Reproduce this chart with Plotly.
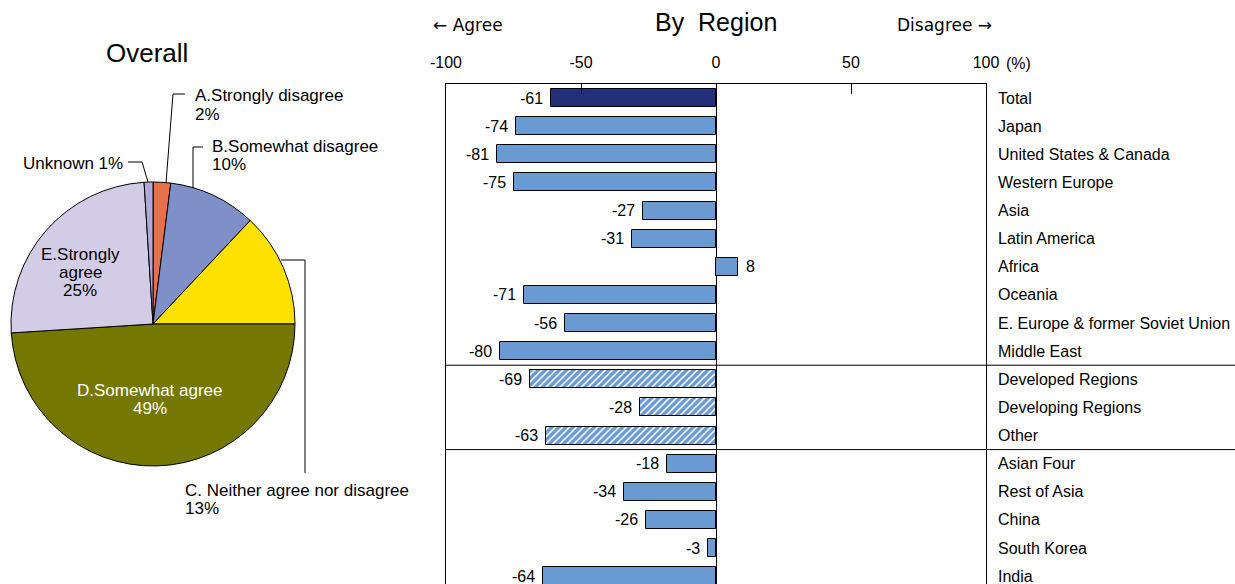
import plotly.graph_objects as go

W, H = 1235, 584

# Overall answers (pie, clockwise from 12 o'clock)
pie_labels = ["A.Strongly disagree", "B.Somewhat disagree", "C. Neither agree nor disagree",
              "D.Somewhat agree", "E.Strongly agree", "Unknown"]
pie_values = [2, 10, 13, 49, 25, 1]
pie_colors = ["#E8704A", "#7F8FC8", "#FFE100", "#747800", "#D2CCE6", "#B0A9DA"]

# Net score by region (negative = agree, positive = disagree)
regions = ["Total", "Japan", "United States & Canada", "Western Europe", "Asia",
           "Latin America", "Africa", "Oceania", "E. Europe & former Soviet Union",
           "Middle East", "Developed Regions", "Developing Regions", "Other",
           "Asian Four", "Rest of Asia", "China", "South Korea", "India"]
scores = [-61, -74, -81, -75, -27, -31, 8, -71, -56, -80, -69, -28, -63,
          -18, -34, -26, -3, -64]
hatched = {"Developed Regions", "Developing Regions", "Other"}

x_ticks = [-100, -50, 0, 50, 100]

FONT = "Liberation Sans, Arial, Helvetica, sans-serif"
BAR = "#6A9AD2"
NAVY = "#22307A"


def P(x, y):
    """pixel position -> paper coordinates"""
    return x / W, 1 - y / H


fig = go.Figure()

fig.add_trace(go.Pie(
    values=pie_values, labels=pie_labels, sort=False, direction="clockwise", rotation=0,
    marker=dict(colors=pie_colors, line=dict(color="black", width=1)),
    textinfo="none", hoverinfo="label+percent", showlegend=False,
    domain=dict(x=[11 / W, 295 / W], y=[1 - 466 / H, 1 - 182 / H]),
))

# solid bars
solid_i = [i for i, r in enumerate(regions) if r not in hatched]
fig.add_trace(go.Bar(
    x=[scores[i] for i in solid_i], y=solid_i, orientation="h", width=0.64,
    marker=dict(color=[NAVY if regions[i] == "Total" else BAR for i in solid_i],
                line=dict(color="black", width=1)),
    showlegend=False, xaxis="x", yaxis="y",
))

# regional aggregates drawn with a white diagonal hatch
hatch_i = [i for i, r in enumerate(regions) if r in hatched]
fig.add_trace(go.Bar(
    x=[scores[i] for i in hatch_i], y=hatch_i, orientation="h", width=0.64,
    marker=dict(color=BAR, line=dict(color="black", width=1),
                pattern=dict(shape="/", fillmode="replace", fgcolor="#FFFFFF",
                             bgcolor=BAR, fgopacity=1, size=5, solidity=0.3)),
    showlegend=False, xaxis="x", yaxis="y",
))

annotations = []
# value labels
for i, v in enumerate(scores):
    annotations.append(dict(
        x=v, y=i, xref="x", yref="y", text=str(v), showarrow=False,
        xanchor="right" if v < 0 else "left", xshift=-6 if v < 0 else 6,
        font=dict(size=16, color="black", family=FONT)))
# region names
for i, r in enumerate(regions):
    annotations.append(dict(
        x=998 / W, y=i, xref="paper", yref="y", text=r, showarrow=False,
        xanchor="left", xshift=-2, font=dict(size=16, color="black", family=FONT)))


def txt(x, y, t, size=17, anchor="left", color="black", family=FONT):
    px_, py_ = P(x, y)
    annotations.append(dict(x=px_, y=py_, xref="paper", yref="paper", text=t,
                            showarrow=False, xanchor=anchor, yanchor="middle",
                            xshift=-2 if anchor == "left" else (2 if anchor == "right" else 0),
                            font=dict(size=size, color=color, family=family)))


ARROWFONT = "DejaVu Sans, " + FONT
txt(147, 53, "Overall", size=26, anchor="center")
txt(716, 22, "By  Region", size=25, anchor="center")
txt(433, 25, "← Agree", size=17, family=ARROWFONT)
txt(897, 25, "Disagree →", size=17, family=ARROWFONT)
txt(1006, 63, "(%)", size=16)

# pie labels
txt(195, 95, "A.Strongly disagree")
txt(195, 114, "2%")
txt(212, 146, "B.Somewhat disagree")
txt(212, 165, "10%")
txt(123, 163, "Unknown 1%", anchor="right")
txt(185, 490, "C. Neither agree nor disagree")
txt(185, 508, "13%")
txt(80, 254, "E.Strongly", anchor="center")
txt(80, 272, "agree", anchor="center")
txt(80, 290, "25%", anchor="center")
txt(150, 390, "D.Somewhat agree", anchor="center", color="white")
txt(150, 408, "49%", anchor="center", color="white")

shapes = []


def seg(pts):
    path = "M " + " L ".join(f"{P(x, y)[0]},{P(x, y)[1]}" for x, y in pts)
    shapes.append(dict(type="path", path=path, xref="paper", yref="paper",
                       line=dict(color="black", width=1)))


seg([(166, 183), (173, 94), (185, 94)])
seg([(193, 188), (193, 147), (203, 147)])
seg([(128, 162), (142, 162), (148, 182)])
seg([(281, 260), (305, 260), (305, 473)])

# group separators across plot and label column
for yv in (9.5, 12.5):
    shapes.append(dict(type="line", xref="paper", yref="y", x0=446 / W, x1=1.0,
                       y0=yv, y1=yv, line=dict(color="black", width=1)))

fig.update_layout(
    template="none",
    width=W, height=H, margin=dict(l=0, r=0, t=0, b=0, pad=0), autosize=False,
    paper_bgcolor="white", plot_bgcolor="white",
    font=dict(family=FONT, size=16, color="black"),
    annotations=annotations, shapes=shapes, bargap=0, barmode="overlay",
    xaxis=dict(domain=[446 / W, 986 / W], range=[-100, 100], side="top",
               automargin=False,
               tickvals=x_ticks, ticktext=[str(t) for t in x_ticks],
               ticks="inside", ticklen=10, tickcolor="black", tickwidth=1,
               ticklabelstandoff=9,
               showline=True, linecolor="black", linewidth=1,
               showgrid=False, zeroline=True, zerolinecolor="black", zerolinewidth=1,
               tickfont=dict(size=16, family=FONT), fixedrange=True),
    yaxis=dict(domain=[0, 1 - 84 / H], range=[17.28, -0.5], automargin=False,
               showticklabels=False, ticks="", showgrid=False, zeroline=False,
               showline=True, linecolor="black", linewidth=1, mirror=True,
               fixedrange=True),
)

fig.write_html("out.html")
